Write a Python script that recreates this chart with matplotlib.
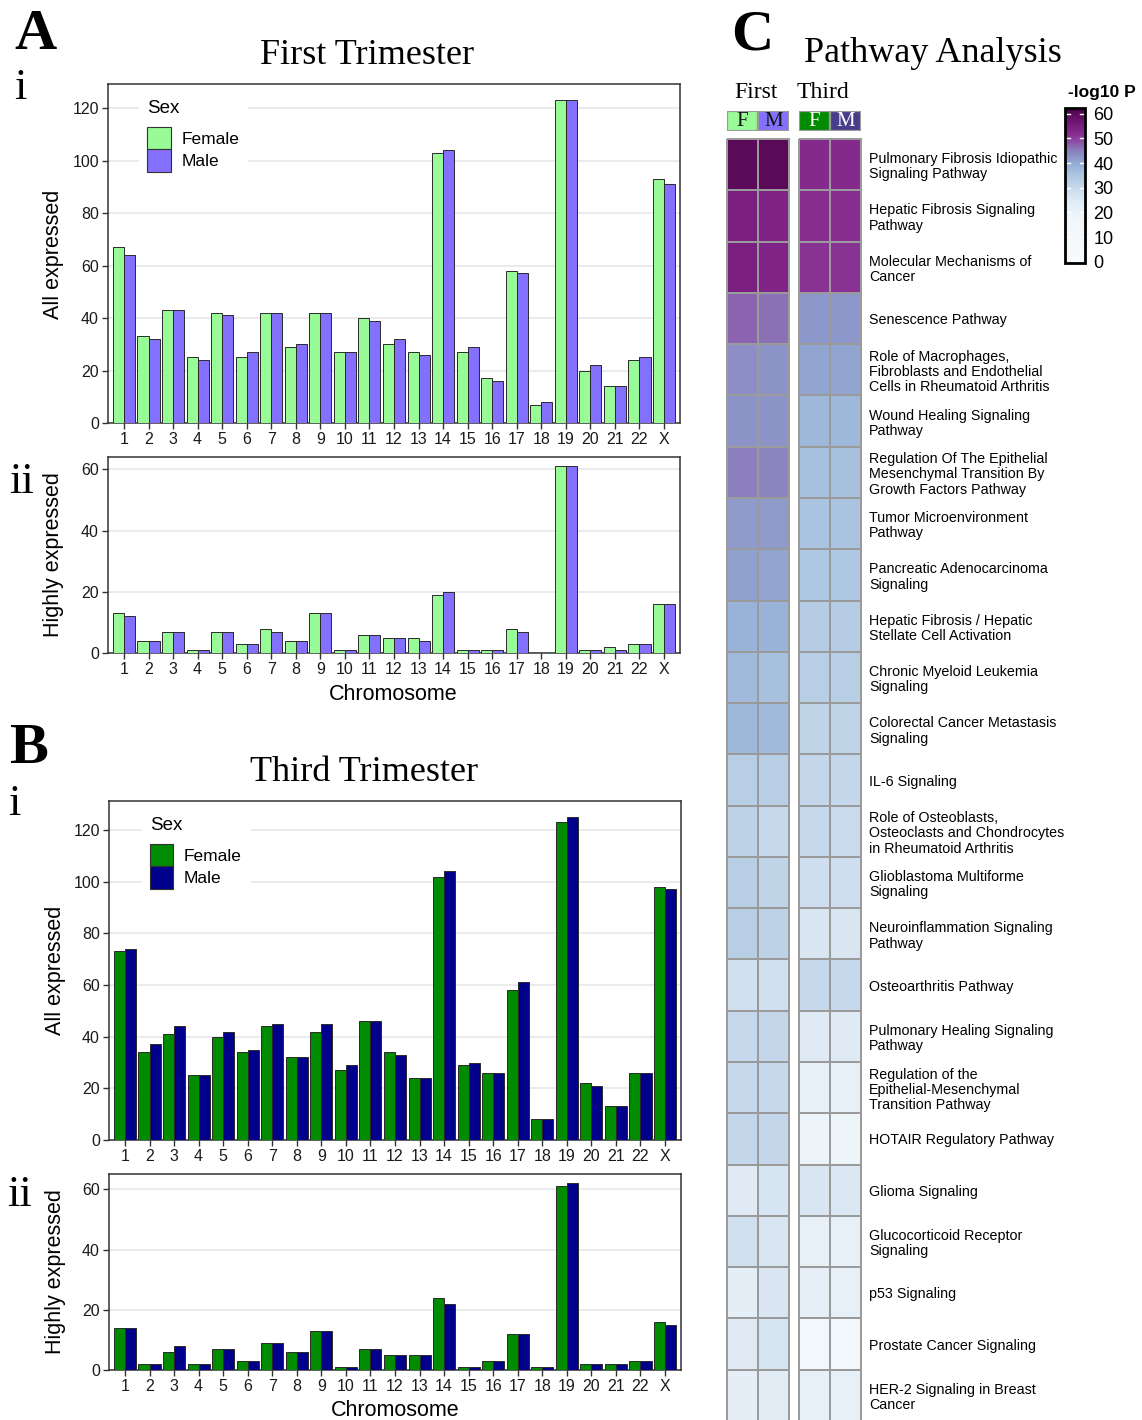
import numpy as np
import matplotlib
matplotlib.use("Agg")
import matplotlib.pyplot as plt
from matplotlib import font_manager
from matplotlib.patches import Patch
from matplotlib.colors import LinearSegmentedColormap, Normalize
from matplotlib.cm import ScalarMappable
from matplotlib.transforms import blended_transform_factory

# ---------------- data ----------------
chromosomes = ["1", "2", "3", "4", "5", "6", "7", "8", "9", "10", "11", "12",
               "13", "14", "15", "16", "17", "18", "19", "20", "21", "22", "X"]

first_all_female = [67, 33, 43, 25, 42, 25, 42, 29, 42, 27, 40, 30, 27, 103, 27, 17, 58, 7, 123, 20, 14, 24, 93]
first_all_male = [64, 32, 43, 24, 41, 27, 42, 30, 42, 27, 39, 32, 26, 104, 29, 16, 57, 8, 123, 22, 14, 25, 91]
first_high_female = [13, 4, 7, 1, 7, 3, 8, 4, 13, 1, 6, 5, 5, 19, 1, 1, 8, 0, 61, 1, 2, 3, 16]
first_high_male = [12, 4, 7, 1, 7, 3, 7, 4, 13, 1, 6, 5, 4, 20, 1, 1, 7, 0, 61, 1, 1, 3, 16]

third_all_female = [73, 34, 41, 25, 40, 34, 44, 32, 42, 27, 46, 34, 24, 102, 29, 26, 58, 8, 123, 22, 13, 26, 98]
third_all_male = [74, 37, 44, 25, 42, 35, 45, 32, 45, 29, 46, 33, 24, 104, 30, 26, 61, 8, 125, 21, 13, 26, 97]
third_high_female = [14, 2, 6, 2, 7, 3, 9, 6, 13, 1, 7, 5, 5, 24, 1, 3, 12, 1, 61, 2, 2, 3, 16]
third_high_male = [14, 2, 8, 2, 7, 3, 9, 6, 13, 1, 7, 5, 5, 22, 1, 3, 12, 1, 62, 2, 2, 3, 15]

pathways = [
    "Pulmonary Fibrosis Idiopathic\nSignaling Pathway",
    "Hepatic Fibrosis Signaling\nPathway",
    "Molecular Mechanisms of\nCancer",
    "Senescence Pathway",
    "Role of Macrophages,\nFibroblasts and Endothelial\nCells in Rheumatoid Arthritis",
    "Wound Healing Signaling\nPathway",
    "Regulation Of The Epithelial\nMesenchymal Transition By\nGrowth Factors Pathway",
    "Tumor Microenvironment\nPathway",
    "Pancreatic Adenocarcinoma\nSignaling",
    "Hepatic Fibrosis / Hepatic\nStellate Cell Activation",
    "Chronic Myeloid Leukemia\nSignaling",
    "Colorectal Cancer Metastasis\nSignaling",
    "IL-6 Signaling",
    "Role of Osteoblasts,\nOsteoclasts and Chondrocytes\nin Rheumatoid Arthritis",
    "Glioblastoma Multiforme\nSignaling",
    "Neuroinflammation Signaling\nPathway",
    "Osteoarthritis Pathway",
    "Pulmonary Healing Signaling\nPathway",
    "Regulation of the\nEpithelial-Mesenchymal\nTransition Pathway",
    "HOTAIR Regulatory Pathway",
    "Glioma Signaling",
    "Glucocorticoid Receptor\nSignaling",
    "p53 Signaling",
    "Prostate Cancer Signaling",
    "HER-2 Signaling in Breast\nCancer",
]
# -log10 P values
first_F = [60, 55, 55, 47.5, 43.5, 43, 45, 42, 41.5, 39, 37.5, 38, 33, 32, 33, 33, 28.5, 30.5, 30.5, 31, 25, 28.5, 23.5, 25, 23]
first_M = [60, 54, 53.5, 46.5, 43, 43, 44.5, 42, 41, 39, 36.5, 37.5, 33, 30.5, 31.5, 32, 28.5, 31, 30.5, 31, 27, 26.5, 26.5, 27.5, 24.5]
third_F = [52.5, 52, 51.5, 42.5, 41, 38, 36.5, 36, 35, 33.5, 33, 31.5, 31, 30.5, 29, 26.5, 30.5, 25, 22, 20, 26.5, 22, 22.5, 15, 22]
third_M = [52.5, 52, 51.5, 42.5, 41, 38, 36.5, 36, 35, 33.5, 33, 31.5, 31, 30, 29, 26.5, 30.5, 25, 22, 19, 26, 22, 22, 15, 22]
cbar_ticks = [0, 10, 20, 30, 40, 50, 60]

# ---------------- style ----------------
W, H = 1142, 1420
names = {f.name for f in font_manager.fontManager.ttflist}
SANS = "Liberation Sans" if "Liberation Sans" in names else "DejaVu Sans"
NARROW = "Liberation Sans Narrow" if "Liberation Sans Narrow" in names else SANS
SERIF = "Liberation Serif" if "Liberation Serif" in names else "DejaVu Serif"
plt.rcParams["font.family"] = [SANS, "DejaVu Sans"]

C_FIRST_F, C_FIRST_M = "#98FB98", "#8470FF"
C_THIRD_F, C_THIRD_M = "#008B00", "#00008B"

fig = plt.figure(figsize=(W / 100, H / 100), dpi=100)


def px_axes(l, t, r, b):
    return fig.add_axes([l / W, 1 - b / H, (r - l) / W, (b - t) / H])


def ftext(x, y, s, **kw):
    return fig.text(x / W, 1 - y / H, s, **kw)


def bar_panel(ax, f, m, cf, cm, yticks, ymax, legend_anchor=None):
    x = np.arange(len(chromosomes))
    ax.bar(x - 0.225, f, width=0.45, color=cf, edgecolor="#2a2a2a", linewidth=0.7, zorder=3)
    ax.bar(x + 0.225, m, width=0.45, color=cm, edgecolor="#2a2a2a", linewidth=0.7, zorder=3)
    ax.set_xlim(-0.65, len(chromosomes) - 0.35)
    ax.set_ylim(0, ymax)
    ax.set_xticks(x)
    ax.set_xticklabels(chromosomes)
    ax.set_yticks(yticks)
    ax.yaxis.grid(True, color="#EBEBEB", linewidth=1.4, zorder=0)
    ax.xaxis.grid(False)
    ax.set_axisbelow(True)
    for s in ax.spines.values():
        s.set_color("#333333")
        s.set_linewidth(1.1)
    ax.tick_params(axis="both", length=4, width=1, color="#333333", labelsize=11.5,
                   labelcolor="#1a1a1a", pad=2.5)
    for lab in ax.get_xticklabels() + ax.get_yticklabels():
        lab.set_family([NARROW, SANS])
    if legend_anchor is not None:
        handles = [Patch(facecolor=cf, edgecolor="#333333", linewidth=0.8, label="Female"),
                   Patch(facecolor=cm, edgecolor="#333333", linewidth=0.8, label="Male")]
        leg = ax.legend(handles=handles, title="Sex", loc="upper left",
                        bbox_to_anchor=legend_anchor, frameon=True, fancybox=False,
                        framealpha=1, edgecolor="white", facecolor="white",
                        prop={"size": 12.5}, title_fontsize=13.5,
                        handlelength=1.35, handleheight=1.6, labelspacing=0.0,
                        handletextpad=0.6, borderpad=0.45, borderaxespad=0,
                        alignment="left")
        leg._legend_box.sep = 7
        leg.set_zorder(5)


# ---------------- Panel A ----------------
axA1 = px_axes(108, 84, 680, 423)
bar_panel(axA1, first_all_female, first_all_male, C_FIRST_F, C_FIRST_M,
          [0, 20, 40, 60, 80, 100, 120], 123 * 1.05, legend_anchor=(0.055, 0.975))
axA2 = px_axes(108, 457, 680, 653)
bar_panel(axA2, first_high_female, first_high_male, C_FIRST_F, C_FIRST_M,
          [0, 20, 40, 60], 61 * 1.05)

# ---------------- Panel B ----------------
axB1 = px_axes(109, 801, 681, 1140)
bar_panel(axB1, third_all_female, third_all_male, C_THIRD_F, C_THIRD_M,
          [0, 20, 40, 60, 80, 100, 120], 125 * 1.05, legend_anchor=(0.058, 0.975))
axB2 = px_axes(109, 1174, 681, 1370)
bar_panel(axB2, third_high_female, third_high_male, C_THIRD_F, C_THIRD_M,
          [0, 20, 40, 60], 62 * 1.05)

# labels for bar panels
ftext(367, 56, "First Trimester", family=SERIF, fontsize=26, ha="center", va="center")
ftext(364, 772, "Third Trimester", family=SERIF, fontsize=26, ha="center", va="center")
ftext(35, 35, "A", family=SERIF, fontsize=42, fontweight="bold", ha="center", va="center")
ftext(28, 749, "B", family=SERIF, fontsize=42, fontweight="bold", ha="center", va="center")
ftext(752, 35, "C", family=SERIF, fontsize=42, fontweight="bold", ha="center", va="center")
ftext(20, 88, "i", family=SERIF, fontsize=32, ha="center", va="center")
ftext(21, 482, "ii", family=SERIF, fontsize=32, ha="center", va="center")
ftext(14, 804, "i", family=SERIF, fontsize=32, ha="center", va="center")
ftext(20, 1195, "ii", family=SERIF, fontsize=32, ha="center", va="center")
ftext(54, 254, "All expressed", fontsize=15.5, rotation=90, ha="center", va="center")
ftext(54, 555, "Highly expressed", fontsize=15.5, rotation=90, ha="center", va="center")
ftext(56, 970, "All expressed", fontsize=15.5, rotation=90, ha="center", va="center")
ftext(56, 1272, "Highly expressed", fontsize=15.5, rotation=90, ha="center", va="center")
ftext(393, 695, "Chromosome", fontsize=15.5, ha="center", va="center")
ftext(395, 1411, "Chromosome", fontsize=15.5, ha="center", va="center")

# ---------------- Panel C: heatmap ----------------
anchors = [(0, "#f7fbfd"), (18, "#f0f6fa"), (24, "#e3edf6"), (28, "#d3e2f0"),
           (32, "#bed2e7"), (36, "#a9c3e0"), (40, "#93acd4"), (43, "#8c94c8"),
           (46, "#8a78b8"), (49, "#8c4fa6"), (52, "#872d90"), (56, "#761a7a"),
           (62.5, "#4a0045")]
VMAX = 62.5
cmap = LinearSegmentedColormap.from_list("plog", [(v / VMAX, c) for v, c in anchors])
norm = Normalize(vmin=0, vmax=VMAX)

ftext(933, 53, "Pathway Analysis", family=SERIF, fontsize=26, ha="center", va="center")
ftext(756, 93, "First", family=SERIF, fontsize=17, ha="center", va="center")
ftext(823, 93, "Third", family=SERIF, fontsize=17, ha="center", va="center")

n = len(pathways)
groups = [
    (727, 789, first_F, first_M, [C_FIRST_F, C_FIRST_M], ["#111111", "#111111"]),
    (799, 861, third_F, third_M, [C_THIRD_F, "#483D8B"], ["#ffffff", "#ffffff"]),
]
hm_axes = []
for (l, r, fv, mv, hcols, tcols) in groups:
    ax = px_axes(l, 139, r, 1421)
    data = np.column_stack([fv, mv])
    ax.pcolormesh(np.arange(3), np.arange(n + 1), data, cmap=cmap, norm=norm,
                  edgecolors="#9a9a9a", linewidth=1.3, clip_on=False)
    ax.set_xlim(0, 2)
    ax.set_ylim(n, 0)
    ax.set_xticks([])
    ax.set_yticks([])
    for s in ax.spines.values():
        s.set_visible(False)
    hm_axes.append(ax)
    # header annotation
    hax = px_axes(l, 111, r, 131)
    hax.bar([0.5, 1.5], [1, 1], width=1, color=hcols, edgecolor="#9a9a9a", linewidth=1.6)
    hax.set_xlim(0, 2)
    hax.set_ylim(0, 1)
    hax.axis("off")
    for k, (lab, tc) in enumerate(zip(["F", "M"], tcols)):
        hax.text(k + 0.5, 0.45, lab, family=SERIF, fontsize=15, color=tc,
                 ha="center", va="center")

# row labels on the right of the third heatmap
axr = hm_axes[1]
axr.yaxis.tick_right()
axr.set_yticks(np.arange(n) + 0.5)
axr.set_yticklabels(pathways)
axr.tick_params(axis="y", length=0, pad=6, labelsize=10.3)
for lab in axr.get_yticklabels():
    lab.set_linespacing(1.12)
    lab.set_horizontalalignment("left")

# colorbar
cax = px_axes(1065, 108, 1085, 263)
sm = ScalarMappable(norm=Normalize(vmin=-0.5, vmax=62.3), cmap=cmap)
cb = fig.colorbar(sm, cax=cax)
cb.outline.set_edgecolor("black")
cb.outline.set_linewidth(2)
cb.set_ticks(cbar_ticks)
cax.tick_params(length=0, labelsize=13, pad=6)
tr = blended_transform_factory(cax.transAxes, cax.transData)
for v in cbar_ticks:
    cax.plot([0.04, 0.24], [v, v], color="white", lw=1, transform=tr)
    cax.plot([0.76, 0.96], [v, v], color="white", lw=1, transform=tr)
ftext(1102, 92, "-log10 P", fontsize=12.5, fontweight="bold", ha="center", va="center")

fig.savefig("out.png", dpi=100)
